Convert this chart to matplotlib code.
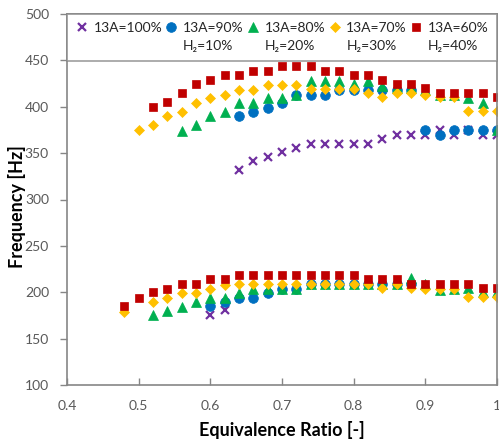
import numpy as np
import matplotlib
matplotlib.use('Agg')
import matplotlib.pyplot as plt

plt.rcParams['font.family'] = ['Lato', 'DejaVu Sans']

# equivalence ratio grid of the measurements
phi = [0.48, 0.50, 0.52, 0.54, 0.56, 0.58, 0.60, 0.62, 0.64, 0.66, 0.68, 0.70, 0.72, 0.74,
       0.76, 0.78, 0.80, 0.82, 0.84, 0.86, 0.88, 0.90, 0.92, 0.94, 0.96, 0.98, 1.00]
N = None

# lower (fundamental) and upper peak frequencies in Hz for each fuel mix
f100_low = [N, N, N, N, N, N, 176, 181, N, N, N, N, N, N,
            N, N, N, N, N, N, N, N, N, N, N, N, N]
f100_high = [N, N, N, N, N, N, N, N, 332, 341, 346, 351, 355, 360,
             360, 360, 360, 360, 365, 370, 370, 370, 375, 370, 375, 370, 370]

f90_low = [N, N, N, N, N, N, 185, 189, 194, 194, 199, 204, 204, 209,
           209, 209, 209, 209, 209, 209, 209, N, N, N, N, N, N]
f90_high = [N, N, N, N, N, N, N, N, 390, 394, 399, 404, 413, 413,
            413, 418, 418, 418, 418, 418, 418, 375, 370, 375, 375, 375, 375]

f80_low = [N, N, 175, 180, 184, 189, 194, 194, 199, 204, 204, 204, 204, 209,
           209, 209, 209, 209, 209, 209, 215, 209, 202, 204, 205, 200, 200]
f80_high = [N, N, N, N, 374, 380, 390, 394, 404, 404, 409, 409, 413, 428,
            428, 428, 425, 428, 422, 420, 420, 418, 413, 413, 409, 404, 375]

f70_low = [179, N, 189, 194, 199, 199, 204, 208, 209, 209, 209, 209, 209, 209,
           209, 209, 209, 209, 205, 209, 205, 204, 204, 204, 195, 195, 195]
f70_high = [N, 375, 380, 390, 394, 404, 409, 413, 418, 418, 423, 423, 423, 419,
            419, 419, 419, 415, 410, 415, 415, 413, 410, 410, 395, 395, 395]

f60_low = [185, 194, 200, 204, 209, 209, 214, 214, 219, 219, 219, 219, 219, 219,
           219, 219, 219, 214, 214, 214, 209, 209, 209, 209, 209, 205, 205]
f60_high = [N, N, 400, 405, 415, 425, 429, 434, 434, 439, 439, 444, 444, 444,
            439, 439, 434, 434, 429, 425, 425, 420, 415, 415, 415, 415, 410]

labels = ['13A=100%', '13A=90%\nH\u2082=10%', '13A=80%\nH\u2082=20%',
          '13A=70%\nH\u2082=30%', '13A=60%\nH\u2082=40%']
colors = ['#7030A0', '#0070C0', '#00B050', '#FFC000', '#C00000']
markers = ['x', 'o', '^', 'D', 's']
sizes = [6, 7, 6.5, 4.8, 6.2]
series = [(f100_low, f100_high), (f90_low, f90_high), (f80_low, f80_high),
          (f70_low, f70_high), (f60_low, f60_high)]

fig = plt.figure(figsize=(4.99, 4.45), dpi=100)
ax = fig.add_axes([67 / 499, 1 - 385 / 445, 430 / 499, 371 / 445])

x = np.array(phi)
for (low, high), lab, c, m, s in zip(series, labels, colors, markers, sizes):
    y = np.array([np.nan if v is None else v for v in low + high], dtype=float)
    xx = np.concatenate([x, x])
    ax.plot(xx, y, linestyle='none', marker=m, color=c, markersize=s,
            markeredgewidth=1.6 if m == 'x' else 0.5, label=lab)

ax.set_xlim(0.4, 1.0)
ax.set_ylim(100, 500)
ax.set_xticks(np.arange(0.4, 1.01, 0.1))
ax.set_xticklabels(['0.4', '0.5', '0.6', '0.7', '0.8', '0.9', '1'])
ax.set_yticks(np.arange(100, 501, 50))

for sp in ax.spines.values():
    sp.set_color('#868686')
    sp.set_linewidth(1.2)
ax.tick_params(axis='x', direction='in', length=5, width=1, color='#868686',
               labelsize=10, labelcolor='#595959', pad=11)
ax.tick_params(axis='y', direction='out', length=5, width=1, color='#868686',
               labelsize=10, labelcolor='#595959', pad=8)

ax.set_xlabel('Equivalence Ratio [-]', fontsize=13, fontweight='bold', labelpad=6)
ax.set_ylabel('Frequency [Hz]', fontsize=13, fontweight='bold', va='center')
ax.yaxis.set_label_coords(-50 / 430, 0.48)

leg = ax.legend(loc='upper left', bbox_to_anchor=(0, 1.0, 1, 0), mode='expand',
                ncol=5, fontsize=10, frameon=True, fancybox=False,
                edgecolor='#868686', handlelength=0.9, handletextpad=0.4,
                columnspacing=0.6, borderpad=0.6, borderaxespad=0.0)
leg.get_frame().set_linewidth(1.2)
for t in leg.get_texts():
    t.set_color('#262626')
    t.set_linespacing(1.6)
# put each marker beside the first line of its label
leg._legend_handle_box.align = 'top'
for col in leg._legend_handle_box.get_children():
    for item in col.get_children():
        item.align = 'top'

fig.savefig('out.png', dpi=100)
